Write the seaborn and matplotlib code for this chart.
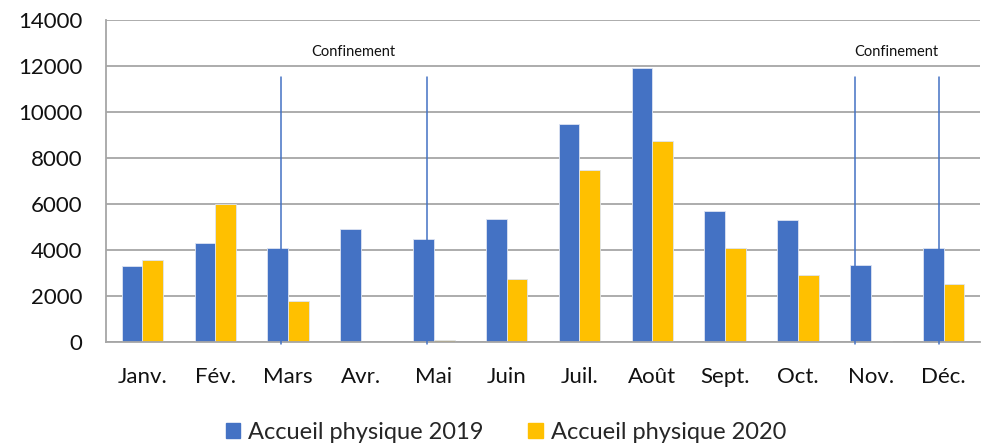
import numpy as np
import pandas as pd
import matplotlib
matplotlib.use('Agg')
import matplotlib.pyplot as plt
import seaborn as sns

MONTHS = ['Janv.', 'Fév.', 'Mars', 'Avr.', 'Mai', 'Juin',
          'Juil.', 'Août', 'Sept.', 'Oct.', 'Nov.', 'Déc.']
VISITS_2019 = [3300, 4300, 4080, 4920, 4480, 5350, 9480, 11910, 5700, 5300, 3350, 4090]
VISITS_2020 = [3550, 6000, 1780, 0, 100, 2740, 7480, 8740, 4090, 2910, 30, 2520]
SERIES = ['Accueil physique 2019', 'Accueil physique 2020']

# lockdown markers: (x in category units, top value)
LOCKDOWN_X = [1.90, 3.90, 9.78, 10.93]
LOCKDOWN_TOP = 11500
LOCKDOWN_LABEL = 'Confinement'
LOCKDOWN_TEXT = [(2.9, 12600), (10.35, 12600)]

COLOR_2019 = '#4472C4'
COLOR_2020 = '#FFC000'
GRID = '#A6A6A6'

sns.set_theme(style='white')
plt.rcParams['font.family'] = ['Lato', 'DejaVu Sans']

df = pd.DataFrame({
    'month': MONTHS * 2,
    'value': VISITS_2019 + VISITS_2020,
    'series': [SERIES[0]] * 12 + [SERIES[1]] * 12,
})

fig = plt.figure(figsize=(9.92, 4.47), dpi=100)
ax = fig.add_axes([0.1069, 0.2349, 0.8811, 0.7204])

sns.barplot(data=df, x='month', y='value', hue='series',
            palette=[COLOR_2019, COLOR_2020], width=0.57, gap=0,
            saturation=1, ax=ax, legend=False, linewidth=0.6,
            edgecolor='#DDE4F2')

for x in LOCKDOWN_X:
    ax.plot([x, x], [-90, LOCKDOWN_TOP], color=COLOR_2019, lw=1.1,
            clip_on=False, zorder=4)
for x, y in LOCKDOWN_TEXT:
    ax.text(x, y, LOCKDOWN_LABEL, ha='center', va='center', fontsize=10.5,
            color='#111111')

ax.set_ylim(0, 14000)
ax.set_xlim(-0.5, 11.5)
ax.set_yticks(np.arange(0, 14001, 2000))
ax.yaxis.grid(True, color=GRID, lw=1.3)
ax.set_axisbelow(True)
ax.set_xlabel('')
ax.set_ylabel('')

ax.set_xticks(np.arange(-0.5, 12, 1), minor=True)
ax.tick_params(axis='x', which='major', length=0, pad=18, labelsize=16,
               colors='#111111')
ax.tick_params(axis='x', which='minor', length=6, color=GRID, width=1.3,
               direction='out')
ax.tick_params(axis='y', length=0, pad=17, labelsize=16, colors='#111111')

for side in ['top', 'right']:
    ax.spines[side].set_visible(False)
ax.spines['left'].set_color(GRID)
ax.spines['left'].set_linewidth(1.3)
ax.spines['bottom'].set_color(GRID)
ax.spines['bottom'].set_linewidth(1.3)

handles = [plt.Rectangle((0, 0), 1, 1, color=COLOR_2019),
           plt.Rectangle((0, 0), 1, 1, color=COLOR_2020)]
fig.legend(handles, SERIES, loc='center', bbox_to_anchor=(0.51, 0.033),
           ncol=2, frameon=False, fontsize=17, handlelength=0.6,
           handleheight=0.6, handletextpad=0.34, columnspacing=1.9)

fig.savefig('out.png', dpi=100)
